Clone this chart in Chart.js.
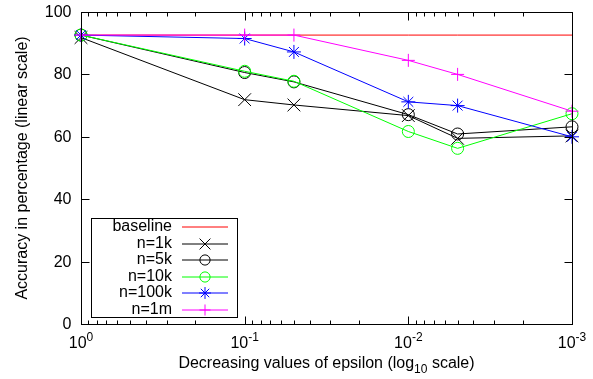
<!DOCTYPE html>
<html>
<head>
<meta charset="utf-8">
<script src="https://cdn.jsdelivr.net/npm/chart.js@4/dist/chart.umd.min.js"></script>
<style>
  body { margin: 0; background: #fff; }
  #wrap { width: 593px; height: 379px; }
</style>
</head>
<body>
<div id="wrap"><canvas id="chart" width="593" height="379"></canvas></div>
<script>
// epsilon values (x axis, reversed log scale)
const epsilons = [1, 0.1, 0.05, 0.01, 0.005, 0.001];

// accuracy in percent, one array per series
const baseline = [92.6, 92.6, 92.6, 92.6, 92.6, 92.6];
const n1k   = [91.8, 71.9, 70.2, 66.8, 59.5, 60.3];
const n5k   = [92.6, 80.6, 77.6, 67.1, 60.9, 63.2];
const n10k  = [92.6, 81.0, 77.8, 61.7, 56.3, 67.4];
const n100k = [92.6, 91.5, 87.2, 71.2, 70.0, 60.0];
const n1m   = [92.6, 92.6, 92.6, 84.5, 80.0, 68.2];

const seriesNames = ["baseline", "n=1k", "n=5k", "n=10k", "n=100k", "n=1m"];
const seriesData = [baseline, n1k, n5k, n10k, n100k, n1m];
const colors = ["#ff0000", "#000000", "#000000", "#00ff00", "#0000ff", "#ff00ff"];
const markers = [false, "crossRot", "circle", "circle", "star", "cross"];
const markerSize = [0, 9, 6, 6, 7, 6.5];

// tick labels
const xTickPowers = [0, -1, -2, -3];
const yTicks = [0, 20, 40, 60, 80, 100];

const FONT = "'Liberation Sans', Arial, sans-serif";
const BIG = "16px " + FONT;
const SMALL = "12px " + FONT;

function pts(arr) {
  return arr.map((v, i) => ({ x: epsilons[i], y: v }));
}

const datasets = seriesNames.map((name, i) => ({
  label: name,
  data: pts(seriesData[i]),
  borderColor: colors[i],
  backgroundColor: "rgba(0,0,0,0)",
  borderWidth: 1,
  pointStyle: markers[i] || "circle",
  pointRadius: markerSize[i],
  pointBorderColor: colors[i],
  pointBorderWidth: 1,
  pointBackgroundColor: "rgba(0,0,0,0)",
  tension: 0,
  clip: false,
  order: seriesNames.length - i,
}));

// gnuplot-style frame, inward ticks, labels and legend
const decorations = {
  id: "decorations",
  afterDraw(chart) {
    const ctx = chart.ctx;
    const a = chart.chartArea;
    const xs = chart.scales.x, ys = chart.scales.y;
    ctx.save();
    ctx.strokeStyle = "#000";
    ctx.lineWidth = 1;
    ctx.fillStyle = "#000";

    // frame
    const L = Math.round(a.left) + 0.5, R = Math.round(a.right) + 0.5;
    const T = Math.round(a.top) + 0.5, B = Math.round(a.bottom) + 0.5;
    ctx.strokeRect(L, T, R - L, B - T);

    // y ticks + labels
    ctx.font = BIG;
    ctx.textAlign = "right";
    ctx.textBaseline = "middle";
    yTicks.forEach(v => {
      const y = Math.round(ys.getPixelForValue(v)) + 0.5;
      ctx.beginPath();
      ctx.moveTo(L, y); ctx.lineTo(L + 8, y);
      ctx.moveTo(R, y); ctx.lineTo(R - 8, y);
      ctx.stroke();
      ctx.fillText(String(v), L - 10, y);
    });

    // x ticks: majors at decades, minors at 2..9
    for (let p = 0; p >= -3; p--) {
      for (let m = 1; m <= 9; m++) {
        const v = m * Math.pow(10, p - 1) * 10;
        if (v > 1.0000001 || v < 0.00099999) continue;
        const x = Math.round(xs.getPixelForValue(v)) + 0.5;
        const len = m === 1 ? 8 : 4;
        ctx.beginPath();
        ctx.moveTo(x, B); ctx.lineTo(x, B - len);
        ctx.moveTo(x, T); ctx.lineTo(x, T + len);
        ctx.stroke();
      }
    }

    // x tick labels 10^n
    ctx.textBaseline = "alphabetic";
    ctx.textAlign = "left";
    xTickPowers.forEach(p => {
      const x = xs.getPixelForValue(Math.pow(10, p));
      ctx.font = BIG;
      const wBase = ctx.measureText("10").width;
      ctx.font = SMALL;
      const sup = String(p);
      const wSup = ctx.measureText(sup).width;
      const start = x - (wBase + wSup) / 2;
      ctx.font = BIG;
      ctx.fillText("10", start, 348);
      ctx.font = SMALL;
      ctx.fillText(sup, start + wBase, 341);
    });

    // x axis title with subscript
    const part1 = "Decreasing values of epsilon (log";
    const part2 = "10";
    const part3 = " scale)";
    ctx.font = BIG;
    const w1 = ctx.measureText(part1).width;
    const w3 = ctx.measureText(part3).width;
    ctx.font = SMALL;
    const w2 = ctx.measureText(part2).width;
    const sx = (a.left + a.right) / 2 - (w1 + w2 + w3) / 2;
    ctx.font = BIG;
    ctx.fillText(part1, sx, 368);
    ctx.font = SMALL;
    ctx.fillText(part2, sx + w1, 373);
    ctx.font = BIG;
    ctx.fillText(part3, sx + w1 + w2, 368);

    // y axis title
    ctx.save();
    ctx.translate(23, (a.top + a.bottom) / 2);
    ctx.rotate(-Math.PI / 2);
    ctx.textAlign = "center";
    ctx.textBaseline = "middle";
    ctx.font = BIG;
    ctx.fillText("Accuracy in percentage (linear scale)", 0, 0);
    ctx.restore();

    // legend box
    const bx = 91.5, by = 218.5, bw = 146, bh = 99;
    ctx.fillStyle = "#fff";
    ctx.fillRect(bx, by, bw, bh);
    ctx.strokeStyle = "#000";
    ctx.strokeRect(bx, by, bw, bh);
    ctx.textAlign = "right";
    ctx.textBaseline = "middle";
    chart.data.datasets.forEach((ds, i) => {
      const y = Math.round(227 + i * 16.6);
      ctx.font = BIG;
      ctx.fillStyle = "#000";
      ctx.fillText(ds.label, 172, y);
      ctx.strokeStyle = ds.borderColor;
      ctx.lineWidth = 1;
      ctx.beginPath();
      ctx.moveTo(182, y);
      ctx.lineTo(228, y);
      ctx.stroke();
      if (ds.pointRadius > 0) {
        ctx.fillStyle = "rgba(0,0,0,0)";
        ctx.strokeStyle = ds.borderColor;
        Chart.helpers.drawPoint(ctx, {
          pointStyle: ds.pointStyle, radius: ds.pointRadius * 0.85,
          rotation: 0, borderWidth: 1
        }, 205, y);
      }
    });
    ctx.restore();
  }
};

new Chart(document.getElementById("chart"), {
  type: "line",
  data: { datasets: datasets },
  options: {
    responsive: false,
    animation: false,
    layout: { padding: { left: 81, top: 12, right: 21, bottom: 55 } },
    plugins: { legend: { display: false }, tooltip: { enabled: false } },
    scales: {
      x: { type: "logarithmic", reverse: true, min: 0.001, max: 1, display: false },
      y: { type: "linear", min: 0, max: 100, display: false },
    },
  },
  plugins: [decorations],
});
</script>
</body>
</html>
